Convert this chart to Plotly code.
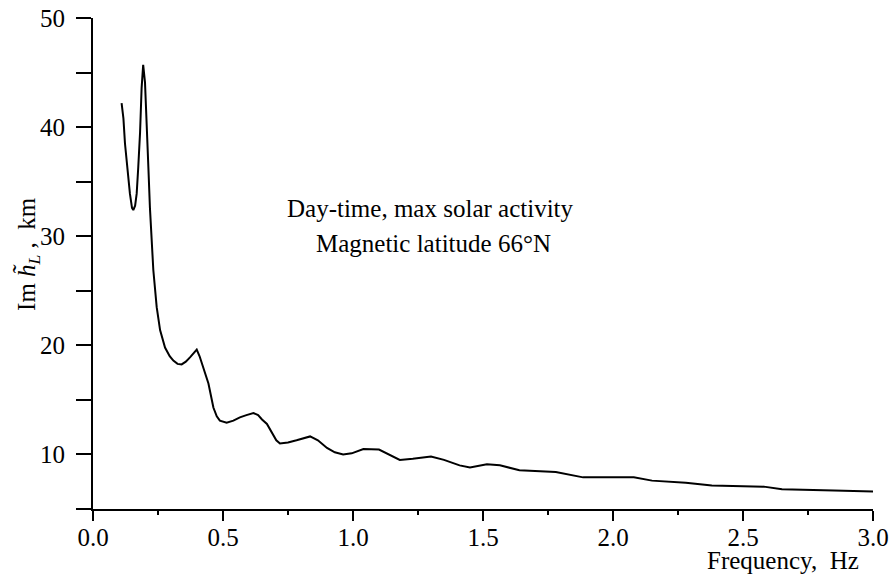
import plotly.graph_objects as go

freq = [0.110, 0.117, 0.123, 0.130, 0.136, 0.142, 0.150, 0.155, 0.162, 0.168,
        0.174, 0.181, 0.187, 0.193, 0.200, 0.207, 0.213, 0.219, 0.226, 0.232,
        0.245, 0.258, 0.277, 0.295, 0.309, 0.325, 0.341, 0.357, 0.373, 0.390,
        0.399, 0.410, 0.424, 0.444, 0.463, 0.476, 0.488, 0.514, 0.540, 0.565,
        0.590, 0.617, 0.635, 0.650, 0.669, 0.690, 0.705, 0.719, 0.750, 0.783,
        0.835, 0.865, 0.900, 0.930, 0.962, 0.995, 1.040, 1.100, 1.140, 1.180,
        1.230, 1.300, 1.350, 1.410, 1.450, 1.515, 1.565, 1.640, 1.780, 1.885,
        2.080, 2.150, 2.280, 2.380, 2.580, 2.650, 2.850, 3.000]
im_h = [42.2, 40.8, 38.5, 36.7, 35.1, 33.9, 32.6, 32.4, 32.8, 33.9,
        36.3, 39.5, 43.6, 45.7, 44.1, 40.6, 36.3, 32.6, 29.5, 26.9,
        23.5, 21.4, 19.8, 19.0, 18.6, 18.3, 18.25, 18.5, 18.9, 19.4,
        19.6, 19.0, 18.0, 16.5, 14.3, 13.5, 13.1, 12.9, 13.1, 13.4,
        13.6, 13.8, 13.6, 13.2, 12.8, 11.9, 11.3, 11.0, 11.1, 11.3,
        11.65, 11.3, 10.6, 10.2, 10.0, 10.1, 10.5, 10.45, 10.0, 9.5,
        9.6, 9.8, 9.5, 9.0, 8.8, 9.1, 9.0, 8.55, 8.4, 7.9,
        7.9, 7.6, 7.4, 7.15, 7.05, 6.8, 6.7, 6.6]

x_ticks = [0.0, 0.5, 1.0, 1.5, 2.0, 2.5, 3.0]
x_tick_labels = ["0.0", "0.5", "1.0", "1.5", "2.0", "2.5", "3.0"]
y_ticks = [10, 20, 30, 40, 50]
y_tick_labels = ["10", "20", "30", "40", "50"]

FONT = "Liberation Serif"

fig = go.Figure()
fig.add_trace(go.Scatter(x=freq, y=im_h, mode="lines",
                         line=dict(color="black", width=2), showlegend=False))

fig.update_layout(
    width=892, height=575,
    margin=dict(l=93, r=19, t=18, b=66, autoexpand=False),
    paper_bgcolor="white", plot_bgcolor="white",
    font=dict(family=FONT, size=25, color="black"),
    xaxis=dict(range=[0, 3.0], showline=True, linecolor="black", linewidth=2,
               ticks="outside", ticklen=10, tickwidth=2, tickcolor="black",
               tickvals=x_ticks, ticktext=x_tick_labels, showgrid=False, zeroline=False,
               automargin=False, ticklabelstandoff=-5, tickfont=dict(family=FONT, size=25),
               minor=dict(dtick=0.25, tick0=0, ticks="outside", ticklen=4, tickwidth=2,
                          tickcolor="black", showgrid=False)),
    yaxis=dict(range=[5, 50], showline=True, linecolor="black", linewidth=2,
               ticks="outside", ticklen=15, tickwidth=2, tickcolor="black",
               tickvals=y_ticks, ticktext=y_tick_labels, showgrid=False, zeroline=False,
               ticklabelstandoff=6, automargin=False, tickfont=dict(family=FONT, size=25),
               minor=dict(dtick=5, tick0=0, ticks="outside", ticklen=15, tickwidth=2,
                          tickcolor="black", showgrid=False)),
    annotations=[
        dict(text="Day-time, max solar activity", xref="paper", yref="paper",
             x=0.433, y=0.612, xanchor="center", yanchor="middle", showarrow=False,
             font=dict(family=FONT, size=25)),
        dict(text="Magnetic latitude 66°N", xref="paper", yref="paper",
             x=0.437, y=0.541, xanchor="center", yanchor="middle", showarrow=False,
             font=dict(family=FONT, size=25)),
        dict(text="Frequency,&nbsp; Hz", xref="paper", yref="paper",
             x=0.984, y=-0.105, xanchor="right", yanchor="middle", showarrow=False,
             font=dict(family=FONT, size=25)),
        dict(text="Im <i>h\u0303</i><sub><i>L</i></sub> ,  km", xref="paper", yref="paper",
             x=-0.083, y=0.52, xanchor="center", yanchor="middle", showarrow=False,
             textangle=-90, font=dict(family=FONT, size=25)),
    ],
)

fig.write_html("out.html")
